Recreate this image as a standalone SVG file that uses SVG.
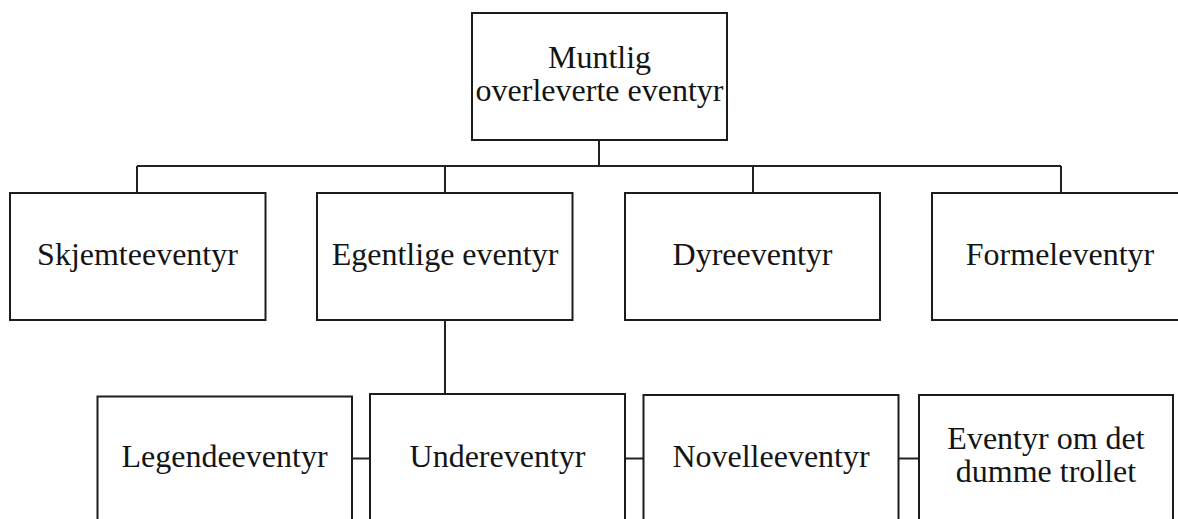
<svg xmlns="http://www.w3.org/2000/svg" width="1178" height="519" viewBox="0 0 1178 519">
  <style>
    .box { fill: #ffffff; stroke: #1c1c1c; stroke-width: 2; }
    .lbl { font-family: "Liberation Serif", "Times New Roman", serif; font-size: 32px; fill: #141414; text-anchor: middle; }
    .conn { fill: none; stroke: #222222; stroke-width: 2; }
  </style>
  <rect width="1178" height="519" fill="#ffffff"/>
  <g id="connectors">
    <path class="conn" d="M599 140 V166"/>
    <path class="conn" d="M137 166 H1061"/>
    <path class="conn" d="M137 166 V193"/>
    <path class="conn" d="M445 166 V193"/>
    <path class="conn" d="M753 166 V193"/>
    <path class="conn" d="M1061 166 V193"/>
    <path class="conn" d="M445 320 V394"/>
    <path class="conn" d="M352 458.5 H370"/>
    <path class="conn" d="M625 458.5 H643"/>
    <path class="conn" d="M898 458.5 H919"/>
  </g>
  <g id="node-root">
    <rect class="box" x="472" y="13" width="255" height="127"/>
    <text class="lbl" x="599.5" y="68">Muntlig<tspan x="599.5" dy="33">overleverte eventyr</tspan></text>
  </g>
  <g id="node-skjemte">
    <rect class="box" x="10" y="193" width="255.5" height="127"/>
    <text class="lbl" x="137.5" y="265">Skjemteeventyr</text>
  </g>
  <g id="node-egentlige">
    <rect class="box" x="317" y="193" width="255.5" height="127"/>
    <text class="lbl" x="445" y="265">Egentlige eventyr</text>
  </g>
  <g id="node-dyre">
    <rect class="box" x="625" y="193" width="255" height="127"/>
    <text class="lbl" x="752.5" y="265">Dyreeventyr</text>
  </g>
  <g id="node-formel">
    <rect class="box" x="932" y="193" width="256" height="127"/>
    <text class="lbl" x="1060" y="265">Formeleventyr</text>
  </g>
  <g id="node-legende">
    <rect class="box" x="97.5" y="396.5" width="254.5" height="130"/>
    <text class="lbl" x="224.5" y="467">Legendeeventyr</text>
  </g>
  <g id="node-under">
    <rect class="box" x="370" y="394" width="255" height="130"/>
    <text class="lbl" x="497.5" y="467">Undereventyr</text>
  </g>
  <g id="node-novelle">
    <rect class="box" x="643.5" y="395" width="255" height="130"/>
    <text class="lbl" x="771" y="467">Novelleeventyr</text>
  </g>
  <g id="node-troll">
    <rect class="box" x="919" y="395" width="254" height="130"/>
    <text class="lbl" x="1046" y="449">Eventyr om det<tspan x="1046" dy="33">dumme trollet</tspan></text>
  </g>
</svg>
